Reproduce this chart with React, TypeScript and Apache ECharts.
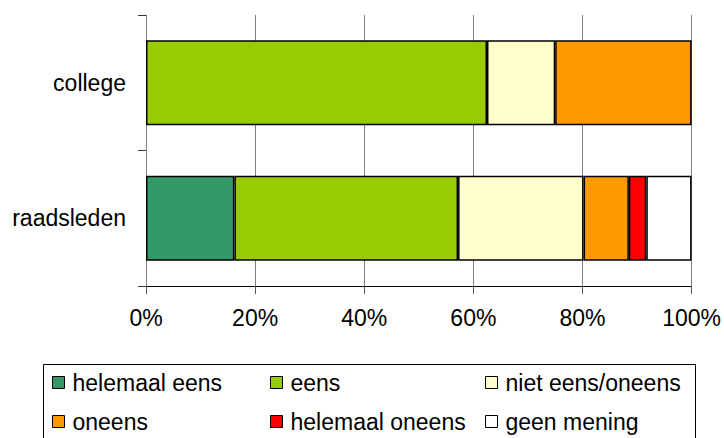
import React, { useEffect, useRef } from "react";
import * as echarts from "echarts";

const categories = ["raadsleden", "college"];
const seriesNames = ["helemaal eens", "eens", "niet eens/oneens", "oneens", "helemaal oneens", "geen mening"];
const helemaalEens = [16.2, null];
const eens = [41.0, 62.5];
const nietEensOneens = [23.0, 12.5];
const oneens = [8.3, 25.0];
const helemaalOneens = [3.2, null];
const geenMening = [8.3, null];
const xTicks = [0, 20, 40, 60, 80, 100];

const colors = ["#339966", "#99CC00", "#FFFFCC", "#FF9900", "#FF0000", "#FFFFFF"];
const values = [helemaalEens, eens, nietEensOneens, oneens, helemaalOneens, geenMening];

const FONT = "'Liberation Sans', Arial, sans-serif";

const legendPos = [
  { left: 52, top: 371 },
  { left: 270, top: 371 },
  { left: 485, top: 371 },
  { left: 52, top: 410 },
  { left: 270, top: 410 },
  { left: 485, top: 410 },
];

export default function App() {
  const ref = useRef<HTMLDivElement>(null);
  useEffect(() => {
    if (!ref.current) return;
    const chart = echarts.init(ref.current, null, { renderer: "svg" });
    chart.setOption({
      animation: false,
      backgroundColor: "#ffffff",
      textStyle: { fontFamily: FONT },
      grid: { left: 146, right: 32, top: 15, bottom: 152, containLabel: false },
      xAxis: {
        type: "value",
        min: xTicks[0],
        max: xTicks[xTicks.length - 1],
        interval: 20,
        axisLine: { show: true, lineStyle: { color: "#000", width: 1 } },
        axisTick: { show: true, length: 8, lineStyle: { color: "#555" } },
        axisLabel: { formatter: "{value}%", fontSize: 23, color: "#000", margin: 20, fontFamily: FONT },
        splitLine: { show: true, lineStyle: { color: "#808080", width: 1 } },
      },
      yAxis: {
        type: "category",
        data: categories,
        axisLine: { show: true, lineStyle: { color: "#808080", width: 1 } },
        axisTick: { show: true, length: 8, lineStyle: { color: "#333" } },
        axisLabel: { fontSize: 23, color: "#000", margin: 20, fontFamily: FONT },
        splitLine: { show: false },
      },
      legend: seriesNames.map((n, i) => ({
        data: [n],
        left: legendPos[i].left,
        top: legendPos[i].top,
        padding: 0,
        icon: "rect",
        itemWidth: 12,
        itemHeight: 12,
        selectedMode: false,
        itemStyle: { borderColor: "#000", borderWidth: 1 },
        textStyle: { fontSize: 23, color: "#000", fontFamily: FONT, padding: [0, 0, 0, 3] },
      })),
      graphic: [
        {
          type: "rect",
          shape: { x: 43.5, y: 364.5, width: 652, height: 100 },
          style: { fill: "none", stroke: "#000", lineWidth: 1 },
          z: -1,
        },
      ],
      series: seriesNames.map((n, i) => ({
        name: n,
        type: "bar",
        stack: "total",
        barWidth: 85,
        data: values[i],
        itemStyle: { color: colors[i], borderColor: "#000", borderWidth: 1.5 },
      })),
    });
    return () => chart.dispose();
  }, []);
  return <div ref={ref} style={{ width: 724, height: 438, position: "absolute", left: 0, top: 0 }} />;
}
